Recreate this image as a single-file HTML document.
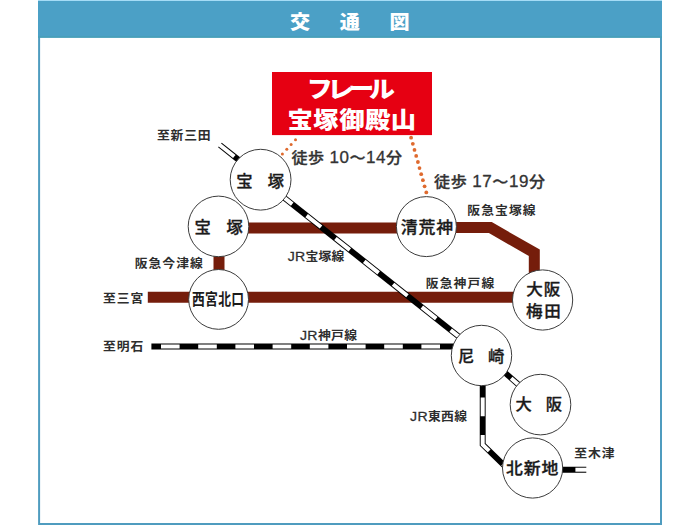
<!DOCTYPE html>
<html lang="ja"><head><meta charset="utf-8"><title>交通図</title>
<style>
html,body{margin:0;padding:0;background:#fff}
body{width:700px;height:525px;overflow:hidden}
svg{display:block}
text{font-family:"Liberation Sans","Noto Sans CJK JP",sans-serif}
.b{font-weight:700}
.k{font-weight:900}
.l{font-weight:700}
.j{font-weight:400;stroke:#2e2e2e;stroke-width:0.25px}
.s{font-weight:500;stroke:#1a1a1a;stroke-width:0.32px;stroke-linejoin:round}
.w{font-weight:500;stroke:#333;stroke-width:0.3px;stroke-linejoin:round}
</style></head><body>
<svg width="700" height="525" viewBox="0 0 700 525">
<rect x="0" y="0" width="700" height="525" fill="#fff"/>
<rect x="38" y="0" width="624" height="1" fill="#a5dcf6"/>
<rect x="39.1" y="2" width="621.9" height="522" fill="#fff" stroke="#4f9cbf" stroke-width="2"/>
<rect x="38" y="1" width="624" height="36.7" fill="#4ba0c6"/>
<rect x="38" y="36.3" width="624" height="1.4" fill="#479fb6"/>
<g fill="none" stroke="#751d0b" stroke-width="11" stroke-linejoin="miter">
<path d="M218 227.9 H426"/>
<path d="M426 227.6 H490.3 L534.3 252.8 V300"/>
<path d="M219 226 V300"/>
<path d="M147.8 297.2 H542"/>
</g>
<path d="M219.90 145.00 L244.95 164.91" fill="none" stroke="#000" stroke-width="5.9"/>
<path d="M218.96 144.25 L234.30 156.45" fill="none" stroke="#fff" stroke-width="4"/>
<path d="M260.6 179 L482 355" fill="none" stroke="#000" stroke-width="5.9"/>
<path d="M260.6 179 L482 355" fill="none" stroke="#fff" stroke-width="4" stroke-dasharray="18.40 18.40" stroke-dashoffset="14.81"/>
<path d="M151.4 346.5 H482" fill="none" stroke="#000" stroke-width="5.9"/>
<path d="M151.4 346.5 H482" fill="none" stroke="#fff" stroke-width="4" stroke-dasharray="18.6 18.6" stroke-dashoffset="-9.60"/>
<path d="M482.7 355 V444.6 L508 469.2" fill="none" stroke="#000" stroke-width="5.9"/>
<path d="M482.7 355 V444.6 L508 469.2" fill="none" stroke="#fff" stroke-width="4" stroke-dasharray="18.55 18.9" stroke-dashoffset="-42.60"/>
<path d="M483.2 353.6 L540.9 404.3" fill="none" stroke="#000" stroke-width="5.9"/>
<path d="M483.2 353.6 L540.9 404.3" fill="none" stroke="#fff" stroke-width="4" stroke-dasharray="40 100" stroke-dashoffset="-37.2"/>
<path d="M540 469.7 H586.3" fill="none" stroke="#000" stroke-width="5.9"/>
<path d="M575.4 469.7 H587.3" fill="none" stroke="#fff" stroke-width="4"/>
<circle cx="295.5" cy="139.8" r="1.5" fill="#df6a2e"/>
<circle cx="291.1" cy="144.5" r="1.5" fill="#df6a2e"/>
<circle cx="286.8" cy="149.3" r="1.5" fill="#df6a2e"/>
<circle cx="282.4" cy="154.0" r="1.5" fill="#df6a2e"/>
<circle cx="411.1" cy="137.7" r="1.9" fill="#df6a2e"/>
<circle cx="412.8" cy="143.8" r="1.9" fill="#df6a2e"/>
<circle cx="414.5" cy="149.9" r="1.9" fill="#df6a2e"/>
<circle cx="416.2" cy="155.9" r="1.9" fill="#df6a2e"/>
<circle cx="417.9" cy="162.0" r="1.9" fill="#df6a2e"/>
<circle cx="419.5" cy="168.1" r="1.9" fill="#df6a2e"/>
<circle cx="421.2" cy="174.2" r="1.9" fill="#df6a2e"/>
<circle cx="422.9" cy="180.2" r="1.9" fill="#df6a2e"/>
<circle cx="424.6" cy="186.3" r="1.9" fill="#df6a2e"/>
<circle cx="426.3" cy="192.4" r="1.9" fill="#df6a2e"/>
<circle cx="260.6" cy="179.7" r="30.4" fill="#fff" stroke="#3c3c3c" stroke-width="1"/>
<circle cx="218.5" cy="226.4" r="30.3" fill="#fff" stroke="#3c3c3c" stroke-width="1"/>
<circle cx="218.6" cy="299.4" r="29.9" fill="#fff" stroke="#3c3c3c" stroke-width="1"/>
<circle cx="426.4" cy="226.6" r="30" fill="#fff" stroke="#3c3c3c" stroke-width="1"/>
<circle cx="542.6" cy="300" r="30.1" fill="#fff" stroke="#3c3c3c" stroke-width="1"/>
<circle cx="481.5" cy="355.5" r="30.2" fill="#fff" stroke="#3c3c3c" stroke-width="1"/>
<circle cx="540.5" cy="404.6" r="30.3" fill="#fff" stroke="#3c3c3c" stroke-width="1"/>
<circle cx="532.6" cy="468" r="30.1" fill="#fff" stroke="#3c3c3c" stroke-width="1"/>
<rect x="272" y="72" width="160" height="63.1" fill="#e60012"/>
<text class="k" transform="translate(289.95 29.10) scale(1.06 1)" font-size="19" fill="#fff" textLength="112.89" lengthAdjust="spacing">交通図</text>
<text class="k" transform="translate(306.70 97.40) scale(1.13 1)" font-size="23" fill="#fff" textLength="78.20" lengthAdjust="spacing">フレール</text>
<text class="k" transform="translate(287.45 127.65) scale(1.1 1)" font-size="23" fill="#fff" textLength="116.99" lengthAdjust="spacing">宝塚御殿山</text>
<text class="w" transform="translate(291.55 163.35) scale(1.05 1)" font-size="15.3" fill="#333" textLength="105.25" lengthAdjust="spacing">徒歩 <tspan font-size="16.2">10</tspan>～<tspan font-size="16.2">14</tspan>分</text>
<text class="w" transform="translate(434.10 186.65) scale(1.05 1)" font-size="15.3" fill="#333" textLength="105.57" lengthAdjust="spacing">徒歩 <tspan font-size="16.2">17</tspan>～<tspan font-size="16.2">19</tspan>分</text>
<text class="s" transform="translate(236.15 186.52) scale(1.04 1)" font-size="15.7" fill="#1a1a1a" textLength="46.02" lengthAdjust="spacing">宝塚</text>
<text class="s" transform="translate(194.55 233.00) scale(1.04 1)" font-size="15.7" fill="#1a1a1a" textLength="46.34" lengthAdjust="spacing">宝塚</text>
<text class="b" transform="translate(191.95 304.73) scale(0.82 1)" font-size="15.6" fill="#1a1a1a" textLength="63.64" lengthAdjust="spacing">西宮北口</text>
<text class="s" transform="translate(400.80 232.78) scale(1.04 1)" font-size="16.2" fill="#1a1a1a" textLength="50.25" lengthAdjust="spacing">清荒神</text>
<text class="s" transform="translate(526.35 295.23) scale(1.04 1)" font-size="15.9" fill="#1a1a1a" textLength="32.60" lengthAdjust="spacing">大阪</text>
<text class="s" transform="translate(526.10 316.57) scale(1.04 1)" font-size="15.9" fill="#1a1a1a" textLength="33.40" lengthAdjust="spacing">梅田</text>
<text class="s" transform="translate(458.10 361.82) scale(1.04 1)" font-size="15.7" fill="#1a1a1a" textLength="44.34" lengthAdjust="spacing">尼崎</text>
<text class="s" transform="translate(515.55 410.00) scale(1.04 1)" font-size="15.7" fill="#1a1a1a" textLength="44.64" lengthAdjust="spacing">大阪</text>
<text class="s" transform="translate(506.05 473.73) scale(1.04 1)" font-size="16.2" fill="#1a1a1a" textLength="50.25" lengthAdjust="spacing">北新地</text>
<text class="l" transform="translate(156.90 140.40) scale(1.07 1)" font-size="12.0" fill="#2e2e2e" textLength="50.20" lengthAdjust="spacing">至新三田</text>
<text class="l" transform="translate(103.00 302.75) scale(1.07 1)" font-size="12.0" fill="#2e2e2e" textLength="37.68" lengthAdjust="spacing">至三宮</text>
<text class="l" transform="translate(103.00 350.67) scale(1.07 1)" font-size="12.0" fill="#2e2e2e" textLength="37.68" lengthAdjust="spacing">至明石</text>
<text class="l" transform="translate(574.20 458.20) scale(1.07 1)" font-size="12.0" fill="#2e2e2e" textLength="37.67" lengthAdjust="spacing">至木津</text>
<text class="l" transform="translate(134.75 268.40) scale(1.07 1)" font-size="12.0" fill="#2e2e2e" textLength="63.62" lengthAdjust="spacing">阪急今津線</text>
<text class="l" transform="translate(467.35 215.37) scale(1.07 1)" font-size="12.0" fill="#2e2e2e" textLength="63.87" lengthAdjust="spacing">阪急宝塚線</text>
<text class="l" transform="translate(425.75 287.72) scale(1.07 1)" font-size="12.0" fill="#2e2e2e" textLength="64.00" lengthAdjust="spacing">阪急神戸線</text>
<text class="l" transform="translate(287.75 261.10) scale(1.07 1)" font-size="12.0" fill="#2e2e2e" textLength="52.81" lengthAdjust="spacing"><tspan class="j" font-size="13.2">JR</tspan>宝塚線</text>
<text class="l" transform="translate(299.90 339.75) scale(1.07 1)" font-size="12.0" fill="#2e2e2e" textLength="53.49" lengthAdjust="spacing"><tspan class="j" font-size="13.2">JR</tspan>神戸線</text>
<text class="l" transform="translate(410.10 421.17) scale(1.07 1)" font-size="12.0" fill="#2e2e2e" textLength="53.25" lengthAdjust="spacing"><tspan class="j" font-size="13.2">JR</tspan>東西線</text>
</svg>
</body></html>
